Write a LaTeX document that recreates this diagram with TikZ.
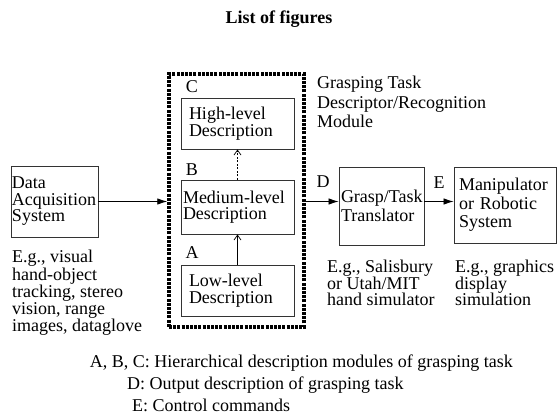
\documentclass[tikz,border=0pt]{standalone}
\usepackage{fontspec}
\setmainfont{Liberation Serif}
\usetikzlibrary{arrows.meta,positioning}

\begin{document}
\begin{tikzpicture}[x=1pt,y=-1pt,
  blk/.style={draw=black!80,line width=.9pt,align=left,inner xsep=0pt,inner ysep=0pt},
  module/.style={draw,line width=3.5pt,dash pattern=on 3pt off 1.2pt},
  lbl/.style={inner sep=0pt,font=\fontsize{18}{18}\selectfont},
  note/.style={align=left,inner sep=0pt},
  arr/.style={line width=.8pt,-{Latex[length=10pt,width=6.5pt]}},
  up/.style={line width=.7pt,-{Straight Barb[length=5pt,width=7pt]}}]

  \useasboundingbox (0,0) rectangle (558,417);

  \node[font=\fontsize{18}{18}\selectfont\bfseries] (title) at (279,19) {List of figures};

  % grasping task descriptor/recognition module
  \node[module,minimum width=135pt,minimum height=253pt] (mod) at (236.5,200.5) {};
  \node[blk,minimum width=113pt,minimum height=51pt,text width=97pt,font=\fontsize{18}{16.5}\selectfont] (high) at (237.5,123.5) {High-level\\Description};
  \node[blk,minimum width=113pt,minimum height=54pt,text width=109pt,font=\fontsize{18}{16.5}\selectfont] (med) at (237.5,207) {Medium-level\\Description};
  \node[blk,minimum width=113pt,minimum height=51pt,text width=97pt,font=\fontsize{18}{16.5}\selectfont] (low) at (237.5,290.5) {Low-level\\Description};
  \node[lbl] (labC) at (192,87) {C};
  \node[lbl] (labB) at (192,170) {B};
  \node[lbl] (labA) at (192,253) {A};
  \node[note,anchor=north west,font=\fontsize{18}{19.5}\selectfont] (modname) at (317,76) {Grasping Task\\Descriptor/Recognition\\Module};

  \node[blk,minimum width=87pt,minimum height=71pt,text width=85pt,font=\fontsize{18}{16.5}\selectfont] (data) at (54.5,201.5) {Data\\Acquisition\\System};
  \node[blk,minimum width=85pt,minimum height=78pt,text width=81pt,font=\fontsize{18}{19}\selectfont] (grasp) at (381.5,206) {Grasp/Task\\Translator};
  \node[blk,minimum width=102pt,minimum height=76pt,text width=92pt,font=\fontsize{18}{18.5}\selectfont] (manip) at (505,205) {Manipulator\\or Robotic\\System};
  \node[lbl] (labD) at (323,182) {D};
  \node[lbl] (labE) at (439,183) {E};

  \node[note,anchor=north west,font=\fontsize{18}{15.2}\selectfont] (datanote) at (12,250) {E.g., visual\\hand-object\\tracking, stereo\\vision, range\\images, dataglove};
  \node[note,anchor=north west,font=\fontsize{18}{16.5}\selectfont] (graspnote) at (327,260) {E.g., Salisbury\\or Utah/MIT\\hand simulator};
  \node[note,anchor=north west,font=\fontsize{18}{16.5}\selectfont] (manipnote) at (455,260) {E.g., graphics\\display\\simulation};

  \draw[arr] (data.east) -- (data.east -| mod.west);
  \draw[arr] (mod.east |- data.east) -- (grasp.west |- data.east);
  \draw[arr] (grasp.east |- data.east) -- (manip.west |- data.east);
  \draw[up] (low.north) -- (med.south);
  \draw[up,dash pattern=on 2pt off 1.5pt] (med.north) -- (high.south);

  % legend
  \node[anchor=east,inner sep=0pt,font=\fontsize{18}{18}\selectfont] (legabc) at (513,363) {A, B, C: Hierarchical description modules of grasping task};
  \node[anchor=west,inner sep=0pt,font=\fontsize{18}{18}\selectfont] (legd) at (127,385) {D: Output description of grasping task};
  \node[anchor=west,inner sep=0pt,font=\fontsize{18}{18}\selectfont] (lege) at (132,405) {E: Control commands};
\end{tikzpicture}
\end{document}
